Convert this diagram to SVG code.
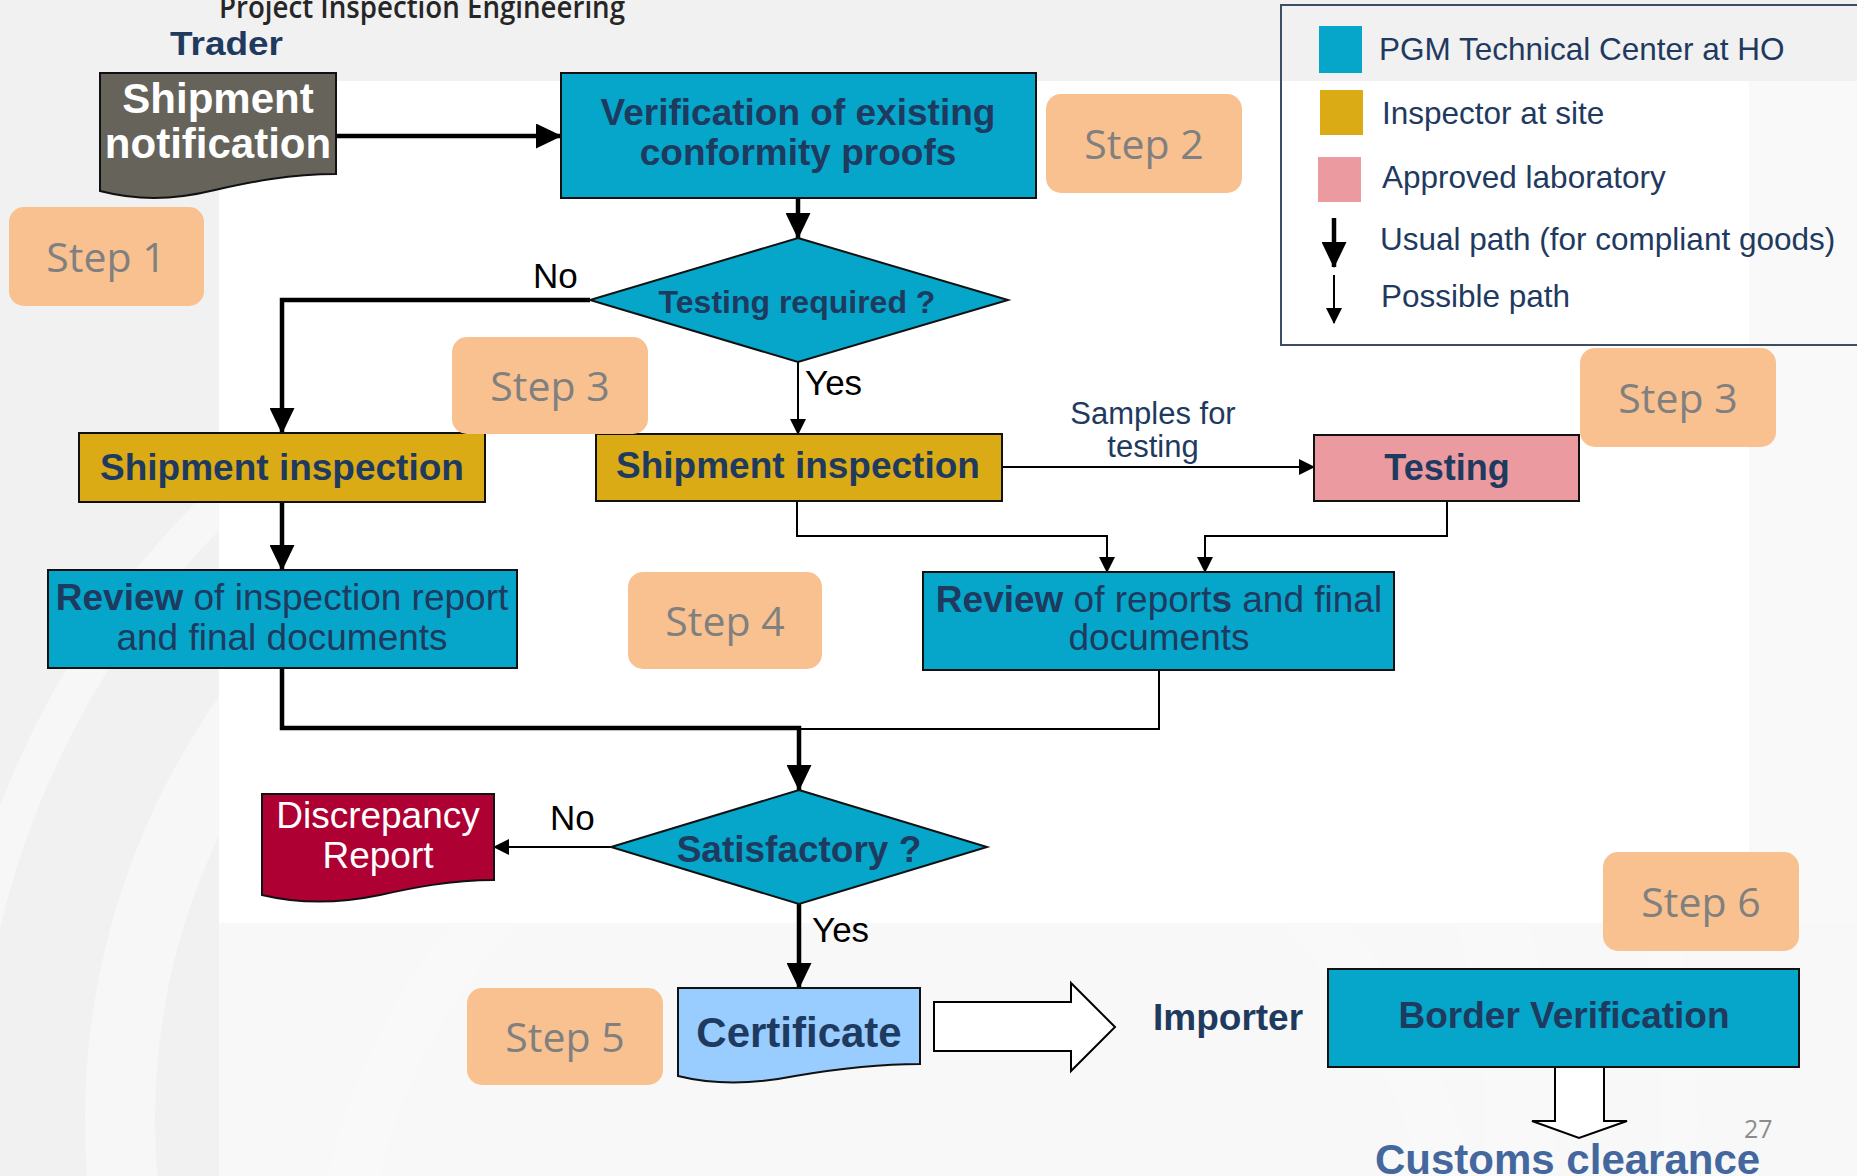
<svg xmlns="http://www.w3.org/2000/svg" width="1857" height="1176" viewBox="0 0 1857 1176">
<defs>
<style>
.bx{stroke:#111;stroke-width:2}
.teal{fill:#05A6C9}
.gold{fill:#DBAB16}
.pink{fill:#EB9AA0}
.step rect{fill:#F9C18F}
.step text{font-family:"Open Sans","Liberation Sans",sans-serif;font-size:41px;fill:#808080;text-anchor:middle}
.t{font-family:"Liberation Sans",Arial,sans-serif;fill:#1F3A5F}
.b{font-weight:bold}
.c{text-anchor:middle}
.lbl{font-family:"Liberation Sans",Arial,sans-serif;font-size:35px;fill:#000}
.leg{font-family:"Liberation Sans",Arial,sans-serif;font-size:31.5px;fill:#1F3A5F}
.thick{fill:none;stroke:#000;stroke-width:4.5}
.thin{fill:none;stroke:#000;stroke-width:2}
</style>
<marker id="ah" viewBox="0 0 26 25" refX="25" refY="12.5" markerWidth="26" markerHeight="25" markerUnits="userSpaceOnUse" orient="auto"><path d="M0,0 L26,12.5 L0,25 Z" fill="#000"/></marker>
<marker id="as" viewBox="0 0 16 16" refX="15" refY="8" markerWidth="16" markerHeight="16" markerUnits="userSpaceOnUse" orient="auto"><path d="M0,0 L16,8 L0,16 Z" fill="#000"/></marker>
</defs>

<g id="background">
<rect x="0" y="0" width="1857" height="1176" fill="#F1F1F1"/>
<rect x="219" y="923" width="1638" height="253" fill="#F8F8F8"/>
<g fill="none" stroke="#FAFAFA" opacity="0.75">
<circle cx="820" cy="1120" r="860" stroke-width="36"/>
<circle cx="820" cy="1120" r="700" stroke-width="70"/>
<circle cx="900" cy="1300" r="560" stroke-width="50"/>
</g>
<rect x="219" y="81" width="1530" height="842" fill="#FFFFFF"/>
<rect x="1749" y="81" width="108" height="842" fill="#F9F9F9"/>
</g>

<text id="title" x="219" y="18" font-family="'Open Sans',sans-serif" font-weight="600" font-size="30" fill="#262626" textLength="406" lengthAdjust="spacingAndGlyphs">Project Inspection Engineering</text>
<text id="trader" class="t b" x="170" y="55" font-size="33" textLength="113" lengthAdjust="spacingAndGlyphs">Trader</text>

<g id="legend">
<rect x="1281" y="5" width="600" height="340" fill="none" stroke="#3D4D63" stroke-width="2"/>
<rect x="1319" y="26" width="43" height="47" class="teal"/>
<rect x="1320" y="90" width="43" height="45" class="gold"/>
<rect x="1318" y="157" width="43" height="45" class="pink"/>
<line x1="1334" y1="218" x2="1334" y2="267" class="thick" marker-end="url(#ah)"/>
<line x1="1334" y1="275" x2="1334" y2="323" class="thin" marker-end="url(#as)"/>
<text class="leg" x="1379" y="60">PGM Technical Center at HO</text>
<text class="leg" x="1382" y="124">Inspector at site</text>
<text class="leg" x="1382" y="188">Approved laboratory</text>
<text class="leg" x="1380" y="250">Usual path (for compliant goods)</text>
<text class="leg" x="1381" y="307">Possible path</text>
</g>

<g id="connectors">
<path d="M336,136 H561" class="thick" marker-end="url(#ah)"/>
<path d="M798,198 V238" class="thick" marker-end="url(#ah)"/>
<path d="M590,300 H282 V433" class="thick" marker-end="url(#ah)"/>
<path d="M798,362 V434" class="thin" marker-end="url(#as)"/>
<path d="M282,502 V570" class="thick" marker-end="url(#ah)"/>
<path d="M1002,467 H1314" class="thin" marker-end="url(#as)"/>
<path d="M797,501 V536 H1107 V572" class="thin" marker-end="url(#as)"/>
<path d="M1447,501 V536 H1205 V572" class="thin" marker-end="url(#as)"/>
<path d="M1159,670 V729 H799" class="thin"/>
<path d="M282,668 V728 H799 V790" class="thick" marker-end="url(#ah)"/>
<path d="M611,847 H494" class="thin" marker-end="url(#as)"/>
<path d="M799,904 V988" class="thick" marker-end="url(#ah)"/>
<path d="M934,1002 H1071 V983 L1115,1027 L1071,1071 V1051 H934 Z" fill="#FFFFFF" stroke="#000" stroke-width="2"/>
<path d="M1555,1067 V1121 H1532 L1579,1138 L1627,1121 H1604 V1067" fill="#FFFFFF" stroke="#000" stroke-width="2"/>
<text class="lbl" x="533" y="288">No</text>
<text class="lbl" x="805" y="395">Yes</text>
<text class="t c" x="1153" y="424" font-size="31">Samples for</text>
<text class="t c" x="1153" y="457" font-size="31">testing</text>
<text class="lbl" x="550" y="830">No</text>
<text class="lbl" x="812" y="942">Yes</text>
</g>

<g id="shipment-notification">
<path d="M100,73 H336 V174 C290,174 250,182 215,190 C170,201 135,200 100,191 Z" fill="#66635A" class="bx"/>
<text class="t b c" x="218" y="113" font-size="42" style="fill:#FFFFFF">Shipment</text>
<text class="t b c" x="218" y="158" font-size="42" style="fill:#FFFFFF">notification</text>
</g>

<g id="verification">
<rect x="561" y="73" width="475" height="125" class="teal bx"/>
<text class="t b c" x="798" y="125" font-size="37">Verification of existing</text>
<text class="t b c" x="798" y="165" font-size="37">conformity proofs</text>
</g>

<g id="testing-required">
<polygon points="798,238 1008,300 798,362 590,300" class="teal bx"/>
<text class="t b c" x="797" y="313" font-size="32">Testing required ?</text>
</g>

<g id="inspection-left">
<rect x="79" y="433" width="406" height="69" class="gold bx"/>
<text class="t b c" x="282" y="480" font-size="37">Shipment inspection</text>
</g>

<g id="inspection-right">
<rect x="596" y="434" width="406" height="67" class="gold bx"/>
<text class="t b c" x="798" y="478" font-size="37">Shipment inspection</text>
</g>

<g id="testing">
<rect x="1314" y="435" width="265" height="66" class="pink bx"/>
<text class="t b c" x="1447" y="480" font-size="36">Testing</text>
</g>

<g id="review-left">
<rect x="48" y="570" width="469" height="98" class="teal bx"/>
<text class="t c" x="282" y="610" font-size="37"><tspan font-weight="bold">Review</tspan> of inspection report</text>
<text class="t c" x="282" y="650" font-size="37">and final documents</text>
</g>

<g id="review-right">
<rect x="923" y="572" width="471" height="98" class="teal bx"/>
<text class="t c" x="1159" y="612" font-size="37"><tspan font-weight="bold">Review</tspan> of report<tspan font-weight="bold">s</tspan> and final</text>
<text class="t c" x="1159" y="650" font-size="37">documents</text>
</g>

<g id="satisfactory">
<polygon points="799,790 987,847 799,904 611,847" class="teal bx"/>
<text class="t b c" x="799" y="862" font-size="37">Satisfactory ?</text>
</g>

<g id="discrepancy-report">
<path d="M262,794 H494 V880 C450,880 412,888 380,895 C332,905 295,903 262,895 Z" fill="#AF0033" class="bx"/>
<text class="t c" x="378" y="828" font-size="37" style="fill:#FFFFFF">Discrepancy</text>
<text class="t c" x="378" y="868" font-size="37" style="fill:#FFFFFF">Report</text>
</g>

<g id="certificate">
<path d="M678,988 H920 V1064 C870,1064 830,1070 795,1076 C750,1085 710,1084 678,1076 Z" fill="#99CCFF" class="bx"/>
<text class="t b c" x="799" y="1047" font-size="42">Certificate</text>
</g>

<g id="importer">
<text class="t b" x="1153" y="1030" font-size="37">Importer</text>
</g>

<g id="border-verification">
<rect x="1328" y="969" width="471" height="98" class="teal bx"/>
<text class="t b c" x="1564" y="1028" font-size="37">Border Verification</text>
</g>

<g id="customs-clearance">
<text class="t b" x="1375" y="1174" font-size="42" style="fill:#44679E">Customs clearance</text>
</g>

<text id="page-number" x="1744" y="1138" font-family="'Open Sans',sans-serif" font-size="25" fill="#8C8C8C">27</text>

<g id="step1" class="step"><rect x="9" y="207" width="195" height="99" rx="15"/><text x="106" y="272">Step 1</text></g>
<g id="step2" class="step"><rect x="1046" y="94" width="196" height="99" rx="15"/><text x="1144" y="159">Step 2</text></g>
<g id="step3a" class="step"><rect x="452" y="337" width="196" height="97" rx="15"/><text x="550" y="401">Step 3</text></g>
<g id="step3b" class="step"><rect x="1580" y="348" width="196" height="99" rx="15"/><text x="1678" y="413">Step 3</text></g>
<g id="step4" class="step"><rect x="628" y="572" width="194" height="97" rx="15"/><text x="725" y="636">Step 4</text></g>
<g id="step5" class="step"><rect x="467" y="988" width="196" height="97" rx="15"/><text x="565" y="1052">Step 5</text></g>
<g id="step6" class="step"><rect x="1603" y="852" width="196" height="99" rx="15"/><text x="1701" y="917">Step 6</text></g>
</svg>
